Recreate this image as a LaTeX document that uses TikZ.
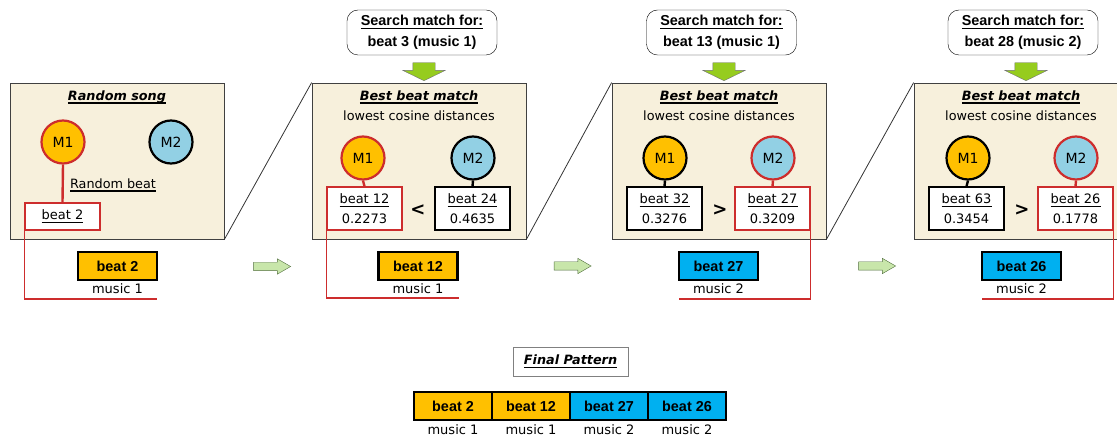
\documentclass[tikz,border=0pt]{standalone}
\usepackage{fontspec}
\setmainfont{DejaVu Sans}
\newfontfamily\arialfont{Liberation Sans}
\usetikzlibrary{positioning,shapes.arrows}

\definecolor{panelbg}{RGB}{247,240,220}
\definecolor{gold}{RGB}{255,192,0}
\definecolor{lightblue}{RGB}{146,208,228}
\definecolor{skyblue}{RGB}{0,176,240}
\definecolor{pickred}{RGB}{205,45,45}
\definecolor{limegreen}{RGB}{150,204,30}
\definecolor{palegreen}{RGB}{200,230,170}
\definecolor{arrowedge}{RGB}{80,110,60}

% underline with a heavier rule, a fixed distance under the baseline
\newcommand{\thickul}[1]{\setbox0\hbox{#1}\vtop{\hbox{\copy0}\kern-\dp0\kern2.2pt\hrule height 1.1pt width \wd0}}

\begin{document}
\begin{tikzpicture}[x=1pt,y=-1pt,
    panel/.style={draw=black!75,line width=0.8pt,fill=panelbg,minimum width=214pt,minimum height=156pt,inner sep=0pt},
    heading/.style={font=\fontsize{12.8}{15}\selectfont\bfseries\itshape},
    small/.style={font=\fontsize{12.8}{15}\selectfont},
    mnode/.style={circle,minimum size=43pt,inner sep=0pt,line width=2.2pt,font=\fontsize{14}{16}\selectfont},
    mone/.style={mnode,fill=gold},
    mtwo/.style={mnode,fill=lightblue},
    beatbox/.style={draw,fill=white,line width=1.2pt,minimum width=75pt,minimum height=43pt,align=center,inner sep=0pt,
                    font=\fontsize{13}{20}\selectfont},
    outbox/.style={draw,line width=2.4pt,minimum width=79pt,minimum height=28pt,inner sep=0pt,outer sep=0pt,
                   font=\arialfont\fontsize{14.4}{16}\selectfont\bfseries},
    music/.style={font=\fontsize{13}{15}\selectfont,inner sep=1pt},
    search/.style={draw,rounded corners=11pt,minimum width=150pt,minimum height=45pt,align=center,
                   font=\arialfont\fontsize{14.4}{21}\selectfont\bfseries},
    downarrow/.style={single arrow,draw=black!55,fill=limegreen,rotate=-90,minimum height=18pt,
                      inner xsep=0pt,inner ysep=11pt,single arrow head extend=10pt,single arrow tip angle=128},
    nextarrow/.style={single arrow,draw=arrowedge,fill=palegreen,minimum height=37pt,
                      inner xsep=0pt,inner ysep=4pt,single arrow head extend=3.5pt,single arrow tip angle=60},
    cmp/.style={font=\fontsize{18}{20}\selectfont\bfseries},
    stub/.style={line width=2.4pt},
    diag/.style={draw=black!80,line width=0.8pt},
    redpath/.style={draw=pickred,line width=1.2pt}
                   ]

    \useasboundingbox (0,0) rectangle (1117,438);
    \clip (0,0) rectangle (1117,438);

    % panels
    \node[panel](p1) at (117,161) {};
    \node[panel](p2) at (419,161) {};
    \node[panel](p3) at (719,161) {};
    \node[panel](p4) at (1021,161) {};
    \draw[diag] (p1.south east) -- (p2.north west);
    \draw[diag] (p2.south east) -- (p3.north west);
    \draw[diag] (p3.south east) -- (p4.north west);

    % search bubbles
    \node[search](s2) at (422,32.5) {\thickul{Search match for:}\\beat 3 (music 1)};
    \node[search](s3) at (721.5,32.5) {\thickul{Search match for:}\\beat 13 (music 1)};
    \node[search](s4) at (1023,32.5) {\thickul{Search match for:}\\beat 28 (music 2)};
    \node[downarrow](d2) at (424,69) {};
    \node[downarrow](d3) at (724,69) {};
    \node[downarrow](d4) at (1026,69) {};

    % panel 1
    \node[heading](h1) at (117,97) {\thickul{Random song}};
    \node[mone,draw=pickred](m11) at (63,142) {M1};
    \node[mtwo,draw=black](m12) at (171,142) {M2};
    \node[small](rb) at (113,185) {\thickul{Random beat}};
    \node[beatbox,draw=pickred,minimum height=27pt](b11) at (62.5,216.5) {\thickul{beat 2}};
    \draw[stub,pickred] (m11.south) -- (b11.north);

    % panel 2
    \node[heading](h2) at (419,97) {\thickul{Best beat match}};
    \node[small](l2) at (419,116) {lowest cosine distances};
    \node[mone,draw=pickred](m21) at (363,158) {M1};
    \node[mtwo,draw=black](m22) at (473,158) {M2};
    \node[beatbox,draw=pickred](b21) at (364.5,208.5) {\thickul{beat 12}\\0.2273};
    \node[beatbox](b22) at (472.5,208.5) {\thickul{beat 24}\\0.4635};
    \node[cmp](c2) at (418,210) {<};
    \draw[stub,pickred] (m21.south) -- (b21.north);
    \draw[stub] (m22.south) -- (b22.north);

    % panel 3
    \node[heading](h3) at (719,97) {\thickul{Best beat match}};
    \node[small](l3) at (719,116) {lowest cosine distances};
    \node[mone,draw=black](m31) at (665,158) {M1};
    \node[mtwo,draw=pickred](m32) at (773,158) {M2};
    \node[beatbox](b31) at (664.5,208.5) {\thickul{beat 32}\\0.3276};
    \node[beatbox,draw=pickred](b32) at (772.5,208.5) {\thickul{beat 27}\\0.3209};
    \node[cmp](c3) at (720,210) {>};
    \draw[stub] (m31.south) -- (b31.north);
    \draw[stub,pickred] (m32.south) -- (b32.north);

    % panel 4
    \node[heading](h4) at (1021,97) {\thickul{Best beat match}};
    \node[small](l4) at (1021,116) {lowest cosine distances};
    \node[mone,draw=black](m41) at (968,158) {M1};
    \node[mtwo,draw=pickred](m42) at (1076,158) {M2};
    \node[beatbox](b41) at (966.5,208.5) {\thickul{beat 63}\\0.3454};
    \node[beatbox,draw=pickred](b42) at (1075.5,208.5) {\thickul{beat 26}\\0.1778};
    \node[cmp](c4) at (1022,210) {>};
    \draw[stub] (m41.south) -- (b41.north);
    \draw[stub,pickred] (m42.south) -- (b42.north);

    % chosen beats
    \node[outbox,fill=gold](o1) at (117.5,266) {beat 2};
    \node[outbox,fill=gold](o2) at (418,266) {beat 12};
    \node[outbox,fill=skyblue](o3) at (718.5,266) {beat 27};
    \node[outbox,fill=skyblue](o4) at (1021.5,266) {beat 26};
    \node[music,below=2pt of o1](u1) {music 1};
    \node[music,below=2pt of o2](u2) {music 1};
    \node[music,below=2pt of o3](u3) {music 2};
    \node[music,below=2pt of o4](u4) {music 2};

    \coordinate (r1) at (157,299);
    \coordinate (r2) at (459,298);
    \coordinate (r3) at (679,299);
    \coordinate (r4) at (982,299);
    \draw[redpath] (b11.south west) |- (r1);
    \draw[redpath] (b21.south west) |- (r2);
    \draw[redpath] (b32.south east) |- (r3);
    \draw[redpath] (b42.south east) |- (r4);

    \node[nextarrow](g1) at (268.5,266.5) {};
    \node[nextarrow](g2) at (569,266) {};
    \node[nextarrow](g3) at (873.5,266) {};

    % final pattern
    \node[draw=black!50,line width=0.8pt,minimum width=115pt,minimum height=29pt,heading](fp) at (570.5,361.5) {\thickul{Final Pattern}};
    \node[outbox,minimum width=78pt,fill=gold](f1) at (453,406) {beat 2};
    \node[outbox,minimum width=78pt,fill=gold,right=0pt of f1](f2) {beat 12};
    \node[outbox,minimum width=78pt,fill=skyblue,right=0pt of f2](f3) {beat 27};
    \node[outbox,minimum width=78pt,fill=skyblue,right=0pt of f3](f4) {beat 26};
    \node[music,below=3pt of f1](v1) {music 1};
    \node[music,below=3pt of f2](v2) {music 1};
    \node[music,below=3pt of f3](v3) {music 2};
    \node[music,below=3pt of f4](v4) {music 2};

\end{tikzpicture}
\end{document}
